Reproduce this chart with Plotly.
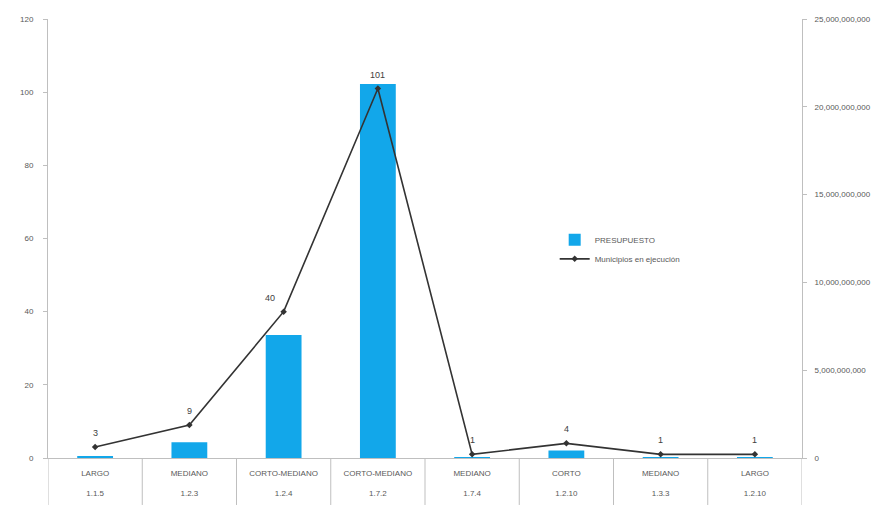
import plotly.graph_objects as go

codes = ["1.1.5", "1.2.3", "1.2.4", "1.7.2", "1.7.4", "1.2.10", "1.3.3", "1.2.10"]
tipos = ["LARGO", "MEDIANO", "CORTO-MEDIANO", "CORTO-MEDIANO", "MEDIANO", "CORTO", "MEDIANO", "LARGO"]
presupuesto = [120000000, 900000000, 7000000000, 21300000000, 40000000, 420000000, 50000000, 40000000]
municipios = [3, 9, 40, 101, 1, 4, 1, 1]

font_fam = "Liberation Sans, Arial, sans-serif"
axis_col = "#bfbfbf"
txt_col = "#595959"

xpos = list(range(len(codes)))
ticktext = [f"{t}<br><span style='font-size:13px'> </span><br>{c}" for t, c in zip(tipos, codes)]

fig = go.Figure()
fig.add_trace(go.Bar(
    x=xpos, y=presupuesto, name="PRESUPUESTO",
    marker=dict(color="#12a7ea", line=dict(width=0)),
    width=0.38, yaxis="y",
))
fig.add_trace(go.Scatter(
    x=xpos, y=municipios, name="Municipios en ejecución",
    mode="lines+markers",
    line=dict(color="#333333", width=1.6),
    marker=dict(symbol="diamond", size=5, color="#333333"),
    yaxis="y2", cliponaxis=False,
))

# data labels of the line series (label placement offsets are styling only)
label_dx = [0, 0, -14, 0, 0, 0, 0, 0]
annotations = []
for i, v, dx in zip(xpos, municipios, label_dx):
    annotations.append(dict(x=i, y=v, xref="x", yref="y2", text=str(v), showarrow=False,
                            yshift=14, xshift=dx,
                            font=dict(size=9, color="#404040", family=font_fam)))

# category dividers below the x axis
shapes = []
for i in range(len(codes) + 1):
    shapes.append(dict(type="line", xref="x", yref="paper",
                       x0=i - 0.5, x1=i - 0.5, y0=0, y1=-0.107,
                       line=dict(color=axis_col, width=1)))

fig.update_layout(
    width=890, height=511,
    margin=dict(l=40, r=96, t=11, b=61),
    paper_bgcolor="white", plot_bgcolor="white",
    font=dict(family=font_fam, size=9, color=txt_col),
    showlegend=True,
    legend=dict(x=0.672, y=0.53, xanchor="left", yanchor="top",
                bgcolor="rgba(0,0,0,0)", font=dict(size=8, color=txt_col),
                tracegroupgap=4, itemwidth=30),
    shapes=shapes,
    annotations=annotations,
    xaxis=dict(
        range=[-0.5, len(codes) - 0.5], tickmode="array", tickvals=xpos, ticktext=ticktext,
        showline=True, linecolor=axis_col, linewidth=1, showgrid=False, zeroline=False,
        tickfont=dict(size=8, color=txt_col), ticks="", automargin=False,
        ticklabelstandoff=7,
    ),
    yaxis=dict(
        side="right", range=[0, 25e9], dtick=5e9, tickformat=",.0f",
        showline=True, linecolor=axis_col, linewidth=1, showgrid=False,
        ticks="outside", ticklen=4, tickcolor=axis_col, zeroline=False,
        tickfont=dict(size=8, color=txt_col), ticklabelstandoff=6, automargin=False,
    ),
    yaxis2=dict(
        side="left", overlaying="y", range=[0, 120], dtick=20,
        showline=True, linecolor=axis_col, linewidth=1, showgrid=False,
        ticks="outside", ticklen=4, tickcolor=axis_col, zeroline=False,
        tickfont=dict(size=8, color=txt_col), ticklabelstandoff=8, automargin=False,
    ),
)

fig.write_html("out.html")
